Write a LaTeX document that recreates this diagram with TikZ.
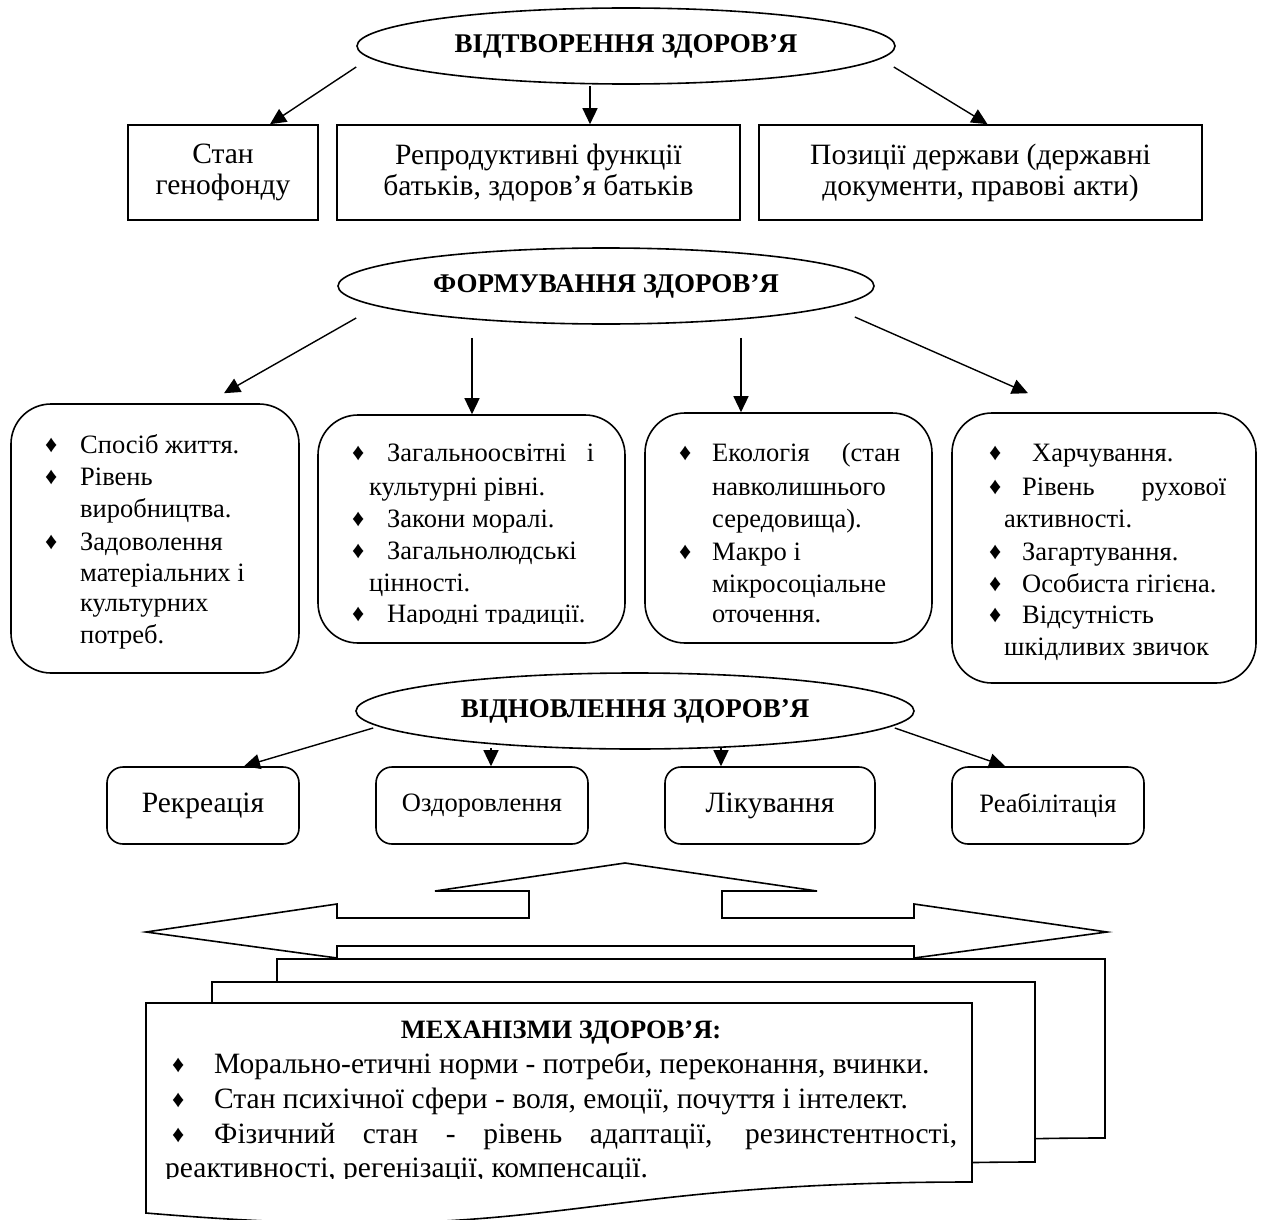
\documentclass[tikz,border=0pt]{standalone}
\usepackage{fontspec}
\setmainfont{Liberation Serif}
\usetikzlibrary{arrows.meta,calc,shapes.geometric}
\begin{document}
\begin{tikzpicture}[x=1pt,y=-1pt,
  every node/.style={font=\fontsize{26.5}{31}\selectfont},
  big/.style={font=\fontsize{29.5}{31}\selectfont},
  ell/.style={draw, ellipse, line width=1.6pt, inner sep=0pt, font=\fontsize{27}{31}\selectfont\bfseries},
  rbox/.style={draw, line width=1.6pt, inner sep=0pt, align=center, big},
  bigbox/.style={draw, line width=1.6pt, rounded corners=40pt, inner sep=0pt},
  smallbox/.style={draw, line width=1.6pt, rounded corners=16pt, inner sep=0pt},
  arr/.style={line width=1.4pt, -{Triangle[length=16pt,width=15pt]}},
  ln/.style={anchor=base west, inner sep=0pt},
  bul/.style={anchor=base west, inner sep=0pt, font=\fontsize{24}{28}\selectfont, yshift=1pt},
  page/.style={draw, line width=1.6pt, fill=white, line join=miter},
]
\useasboundingbox (0,0) rectangle (1261,1220);

% ---------- level 1
\node[ell, minimum width=538pt, minimum height=76pt] (e1) at (626,46) {ВІДТВОРЕННЯ ЗДОРОВ’Я};
\node[rbox, minimum width=190pt, minimum height=95pt] (b1) at (223,172.5) {Стан\\генофонду};
\node[rbox, minimum width=403pt, minimum height=95pt] (b2) at (538.5,172.5) {Репродуктивні функції\\батьків, здоров’я батьків};
\node[rbox, minimum width=443pt, minimum height=95pt] (b3) at (980.5,172.5) {Позиції держави (державні\\документи, правові акти)};
\draw[arr] ($(e1.west)+(0,21)$) -- ($(b1.north)+(47,0)$);
\draw[arr] ($(e1.south)+(-36,1)$) -- ($(b2.north)+(51.5,0)$);
\draw[arr] ($(e1.east)+(-2,21)$) -- ($(b3.north)+(7,0)$);

% ---------- level 2
\node[ell, minimum width=536pt, minimum height=76pt] (e2) at (606,286) {ФОРМУВАННЯ ЗДОРОВ’Я};
\node[bigbox, minimum width=288pt, minimum height=269pt] (r1) at (155,538.5) {};
\node[bigbox, minimum width=307pt, minimum height=228pt] (r2) at (471.5,529) {};
\node[bigbox, minimum width=287pt, minimum height=230pt] (r3) at (788.5,528) {};
\node[bigbox, minimum width=304pt, minimum height=270pt] (r4) at (1104,548) {};
\draw[arr] ($(e2.west)+(19,32)$) -- ($(r1.north)+(69,-10)$);
\draw[arr] ($(e2.south)+(-134,13)$) -- ($(r2.north)+(0.5,0)$);
\draw[arr] ($(e2.south)+(135,13)$) -- ($(r3.north)+(-47.5,0)$);
\draw[arr] ($(e2.east)+(-20,31)$) -- ($(r4.north)+(-76,-19)$);

% box r1 text
\node[bul] (r1p1) at (45,453) {♦};
\node[ln] (r1a) at (80,453) {Спосіб життя.};
\node[bul] (r1p2) at (45,485) {♦};
\node[ln] (r1b) at (80,485) {Рівень};
\node[ln] (r1c) at (80,517) {виробництва.};
\node[bul] (r1p3) at (45,550) {♦};
\node[ln] (r1d) at (80,550) {Задоволення};
\node[ln] (r1e) at (80,581) {матеріальних і};
\node[ln] (r1f) at (80,611) {культурних};
\node[ln] (r1g) at (80,643) {потреб.};

% box r2 text
\node[bul] (r2p1) at (352,461) {♦};
\node[ln] (r2a) at (387,461) {\makebox[207pt][l]{Загальноосвітні\hfill і}};
\node[ln] (r2b) at (369,495) {культурні рівні.};
\node[bul] (r2p2) at (352,527) {♦};
\node[ln] (r2c) at (387,527) {Закони моралі.};
\node[bul] (r2p3) at (352,559) {♦};
\node[ln] (r2d) at (387,559) {Загальнолюдські};
\node[ln] (r2e) at (369,591) {цінності.};
\begin{scope}
\clip (330,595) rectangle (615,623);
\node[bul] (r2p4) at (352,622) {♦};
\node[ln] (r2f) at (387,622) {Народні традиції.};
\end{scope}

% box r3 text
\node[bul] (r3p1) at (679,461) {♦};
\node[ln] (r3a) at (712,461) {\makebox[188pt][l]{Екологія\hfill(стан}};
\node[ln] (r3b) at (712,495) {навколишнього};
\node[ln] (r3c) at (712,527) {середовища).};
\node[bul] (r3p2) at (679,560) {♦};
\node[ln] (r3d) at (712,560) {Макро і};
\node[ln] (r3e) at (712,592) {мікросоціальне};
\begin{scope}
\clip (660,598) rectangle (925,623);
\node[ln] (r3f) at (712,622) {оточення.};
\end{scope}

% box r4 text
\node[bul] (r4p1) at (989,461) {♦};
\node[ln] (r4a) at (1032,461) {Харчування.};
\node[bul] (r4p2) at (989,495) {♦};
\node[ln] (r4b) at (1022,495) {\makebox[204pt][l]{Рівень\hfill рухової}};
\node[ln] (r4c) at (1004,527) {активності.};
\node[bul] (r4p3) at (989,560) {♦};
\node[ln] (r4d) at (1022,560) {Загартування.};
\node[bul] (r4p4) at (989,592) {♦};
\node[ln] (r4e) at (1022,592) {Особиста гігієна.};
\node[bul] (r4p5) at (989,623) {♦};
\node[ln] (r4f) at (1022,623) {Відсутність};
\node[ln] (r4g) at (1004,655) {шкідливих звичок};

% ---------- level 3
\node[ell, minimum width=558pt, minimum height=76pt] (e3) at (635,711) {ВІДНОВЛЕННЯ ЗДОРОВ’Я};
\node[smallbox, big, minimum width=192pt, minimum height=77pt] (s1) at (203,805.5) {Рекреація};
\node[smallbox, minimum width=212pt, minimum height=77pt] (s2) at (482,805.5) {Оздоровлення};
\node[smallbox, big, minimum width=210pt, minimum height=77pt] (s3) at (770,805.5) {Лікування};
\node[smallbox, minimum width=192pt, minimum height=77pt] (s4) at (1048,805.5) {Реабілітація};
\draw[arr] ($(e3.west)+(18,17)$) -- ($(s1.north)+(41,0)$);
\draw[arr] ($(e3.south)+(-144,-2)$) -- ($(s2.north)+(9,0)$);
\draw[arr] ($(e3.south)+(86,-2)$) -- ($(s3.north)+(-49,0)$);
\draw[arr] ($(e3.east)+(-20,17)$) -- ($(s4.north)+(-43,0)$);

% ---------- three-way arrow
\draw[line width=1.6pt, line join=miter, fill=white]
  (625,863) -- (817,891) -- (722,891) -- (722,918) -- (914,918) -- (914,904)
  -- (1107,932) -- (914,958) -- (914,946) -- (337,946) -- (337,958)
  -- (146,932) -- (337,904) -- (337,918) -- (529,918) -- (529,891)
  -- (435,891) -- cycle;

% ---------- multi-document
\draw[page] (277,959) -- (1105,959) -- (1105,1138) .. controls (691,1138) and (691,1206) .. (277,1167) -- cycle;
\draw[page] (212,982) -- (1035,982) -- (1035,1162) .. controls (623,1162) and (623,1230) .. (212,1191) -- cycle;
\draw[page] (146,1003) -- (972,1003) -- (972,1182) .. controls (559,1182) and (559,1248) .. (146,1213) -- cycle;

\node[anchor=base, inner sep=0pt, font=\fontsize{26.5}{31}\selectfont\bfseries] (mt) at (561,1038) {МЕХАНІЗМИ ЗДОРОВ’Я:};
\node[bul] (mp1) at (172,1073) {♦};
\node[ln, big] (m1) at (214,1073) {Морально-етичні норми - потреби, переконання, вчинки.};
\node[bul] (mp2) at (172,1108) {♦};
\node[ln, big] (m2) at (214,1108) {Стан психічної сфери - воля, емоції, почуття і інтелект.};
\node[bul] (mp3) at (172,1143) {♦};
\node[ln, big] (m3) at (214,1143) {\makebox[743pt][s]{Фізичний стан - рівень адаптації, резинстентності,}};
\begin{scope}
\clip (150,1150) rectangle (970,1178);
\node[ln, big] (m4) at (165,1177) {реактивності, регенізації, компенсації.};
\end{scope}
\end{tikzpicture}
\end{document}
